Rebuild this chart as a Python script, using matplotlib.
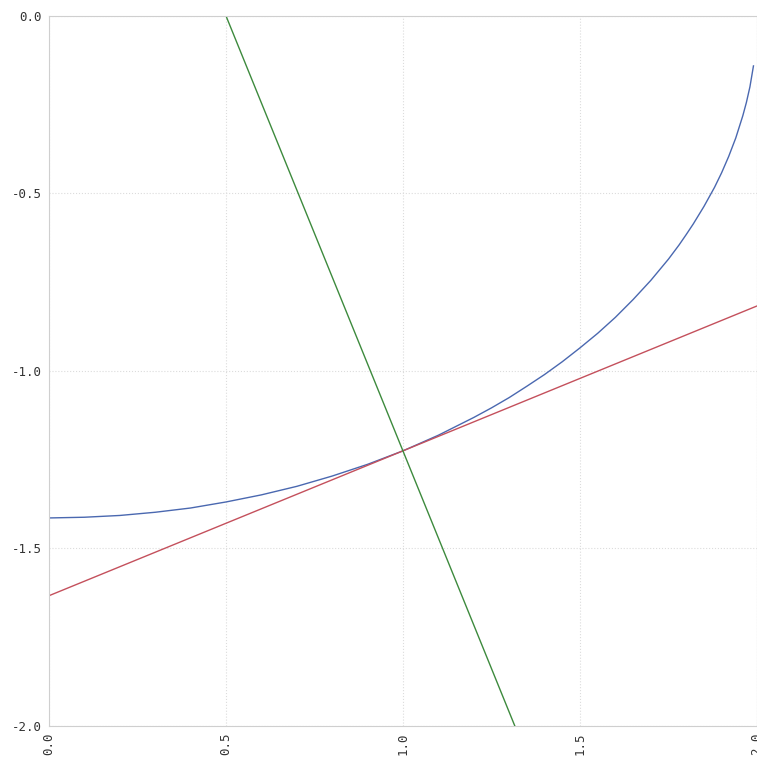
import matplotlib
matplotlib.use("Agg")
import matplotlib.pyplot as plt

# ==================== Дані ====================
curve_x = [0.0, 0.1, 0.2, 0.3, 0.4, 0.5, 0.6, 0.7, 0.8, 0.9, 1.0,
           1.1, 1.2, 1.25, 1.3, 1.35, 1.4, 1.45, 1.5, 1.55, 1.6, 1.65,
           1.7, 1.75, 1.78, 1.8, 1.82, 1.85, 1.88, 1.9, 1.92, 1.94,
           1.96, 1.97, 1.98, 1.99]
curve_y = [-1.414, -1.412, -1.407, -1.398, -1.386, -1.369, -1.349,
           -1.325, -1.296, -1.263, -1.225, -1.181, -1.131, -1.104,
           -1.075, -1.043, -1.010, -0.974, -0.935, -0.894, -0.849,
           -0.799, -0.745, -0.685, -0.645, -0.616, -0.586, -0.537,
           -0.483, -0.442, -0.396, -0.344, -0.281, -0.244, -0.200,
           -0.141]

tangent_x = [0.0, 2.0]
tangent_y = [-1.633, -0.817]

normal_x = [0.5, 1.316]
normal_y = [0.0, -2.0]

xticks = [0.0, 0.5, 1.0, 1.5, 2.0]
yticks = [0.0, -0.5, -1.0, -1.5, -2.0]

# ==================== Малюнок ====================
fig = plt.figure(figsize=(7.57, 7.62), dpi=100)
ax = fig.add_axes([0.0647, 0.0472, 0.9353, 0.932])

ax.plot(curve_x, curve_y, color='#4a68b0', linewidth=1.0)
ax.plot(tangent_x, tangent_y, color='#c4505c', linewidth=1.0)
ax.plot(normal_x, normal_y, color='#3d8a3d', linewidth=1.0)

ax.set_xlim(0, 2)
ax.set_ylim(-2, 0)
ax.set_xticks(xticks)
ax.set_yticks(yticks)
ax.set_xticklabels([f"{v:.1f}" for v in xticks], rotation=90)
ax.set_yticklabels([f"{v:.1f}" for v in yticks])

ax.grid(True, color='#dcdcdc', linestyle=':', linewidth=0.8)
for s in ax.spines.values():
    s.set_color('#cfcfcf')
    s.set_linewidth(0.8)
ax.tick_params(length=0, pad=5, labelsize=9, labelcolor='#333333')
for lbl in ax.get_xticklabels() + ax.get_yticklabels():
    lbl.set_family('DejaVu Sans Mono')

fig.savefig('out.png', dpi=100)
